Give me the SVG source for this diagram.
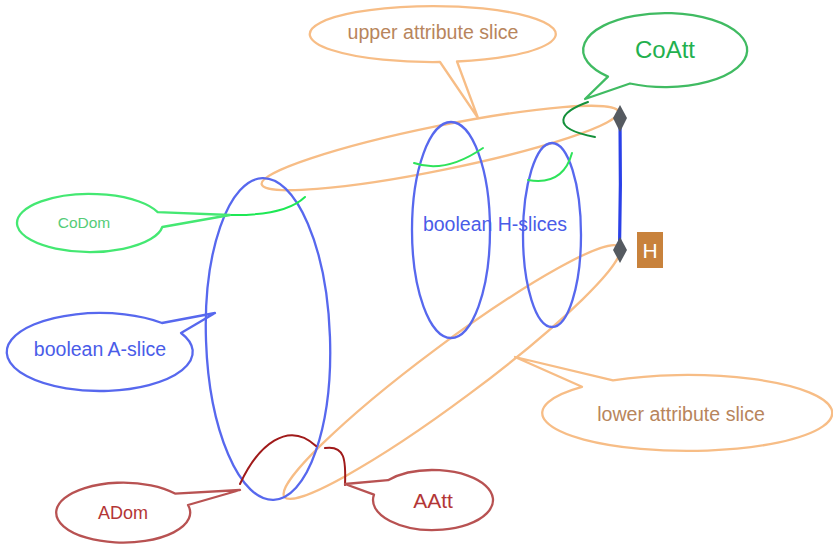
<svg xmlns="http://www.w3.org/2000/svg" width="833" height="544" viewBox="0 0 833 544">
<style>
  .orange { fill: none; stroke: #f7bd86; stroke-width: 2.3; stroke-linejoin: round; }
  .blue { fill: none; stroke: #5768ee; stroke-width: 2.3; stroke-linejoin: round; }
  .lt { font-family: "Liberation Sans", Arial, sans-serif; text-anchor: middle; }
  .brown { fill: #b8855c; font-size: 19.6px; }
  .bluet { fill: #4a5ce8; font-size: 19.5px; }
  .gbub { fill: none; stroke: #44e872; stroke-width: 2.3; stroke-linejoin: round; }
  .gbub2 { fill: none; stroke: #40bb62; stroke-width: 2.3; stroke-linejoin: round; }
  .rbub { fill: none; stroke: #b85252; stroke-width: 2.3; stroke-linejoin: round; }
  .pointer { fill: none; stroke-width: 2; stroke-linecap: round; }
  .diamond { fill: #555a60; }
</style>

<g id="upper-attribute-slice-shape">
  <ellipse class="orange" cx="440" cy="148" rx="182" ry="22" transform="rotate(-11.5 440 148)"/>
</g>
<g id="lower-attribute-slice-shape">
  <ellipse class="orange" cx="452" cy="372" rx="209" ry="28" transform="rotate(-36.7 452 372)"/>
</g>
<g id="a-slice">
  <ellipse class="blue" cx="268" cy="339" rx="62" ry="161" transform="rotate(-2 268 339)"/>
</g>
<g id="h-slice-1">
  <ellipse class="blue" cx="451" cy="230" rx="39" ry="108"/>
</g>
<g id="h-slice-2">
  <ellipse class="blue" cx="552" cy="235" rx="29" ry="92"/>
</g>
<g id="h-slices-label">
  <text class="lt bluet" x="495" y="231">boolean H-slices</text>
</g>

<g id="h-axis">
  <path d="M620 118 Q621 185 619.5 250" fill="none" stroke="#2a40e8" stroke-width="3.2"/>
  <polygon class="diamond" points="620,105 627,118 620,132 613,118"/>
  <polygon class="diamond" points="620,237 627,250 620,263 613,250"/>
</g>
<g id="h-box">
  <rect x="637" y="232" width="26" height="36" fill="#c8823c"/>
  <text class="lt" x="650" y="258" fill="#ffffff" font-size="21">H</text>
</g>

<g id="connectors">
  <path class="pointer" d="M414 163 Q445 174 483 148" stroke="#2ee35a"/>
  <path class="pointer" d="M528 180 Q563 186 572 153" stroke="#2ee35a"/>
  <path class="pointer" d="M230 215 Q285 216 305 197" stroke="#1ee855"/>
  <path class="pointer" d="M588 102 C560 112 548 128 595 137" stroke="#13903a"/>
  <path class="pointer" d="M240 484 C258 445 288 420 316 446" stroke="#a01a1a"/>
  <path class="pointer" d="M325 448 C345 445 346 460 345 485" stroke="#a01a1a"/>
</g>

<g id="upper-attribute-bubble">
  <path class="orange" d="M440 62 A123 28 0 1 1 457 61.5 L478 118 Z"/>
  <text class="lt brown" x="433" y="39">upper attribute slice</text>
</g>
<g id="coatt-bubble">
  <path class="gbub2" d="M608 76.6 A82 37 0 1 1 630 83.5 L585 99 Z"/>
  <text class="lt" x="665" y="58" fill="#22b04e" font-size="24">CoAtt</text>
</g>
<g id="codom-bubble">
  <path class="gbub" d="M157.7 212.1 A73 29 0 1 0 162.3 227 L230 215 Z"/>
  <text class="lt" x="84" y="228" fill="#55cc77" font-size="15.5">CoDom</text>
</g>
<g id="a-slice-bubble">
  <path class="blue" d="M162 323 A93 39 0 1 0 181 333 L215 313 Z"/>
  <text class="lt bluet" x="100" y="356">boolean A-slice</text>
</g>
<g id="lower-attribute-bubble">
  <path class="orange" d="M582 386.8 A145 38 0 1 0 613 380.3 L515 357 Z"/>
  <text class="lt brown" x="681" y="421">lower attribute slice</text>
</g>
<g id="adom-bubble">
  <path class="rbub" d="M175 493.6 A67 30 0 1 0 188 505 L240 490 Z"/>
  <text class="lt" x="123" y="519" fill="#b33636" font-size="18">ADom</text>
</g>
<g id="aatt-bubble">
  <path class="rbub" d="M388 480.2 A60 30 0 1 1 374 494.6 L345 484 Z"/>
  <text class="lt" x="433" y="508" fill="#b33636" font-size="21">AAtt</text>
</g>
</svg>
